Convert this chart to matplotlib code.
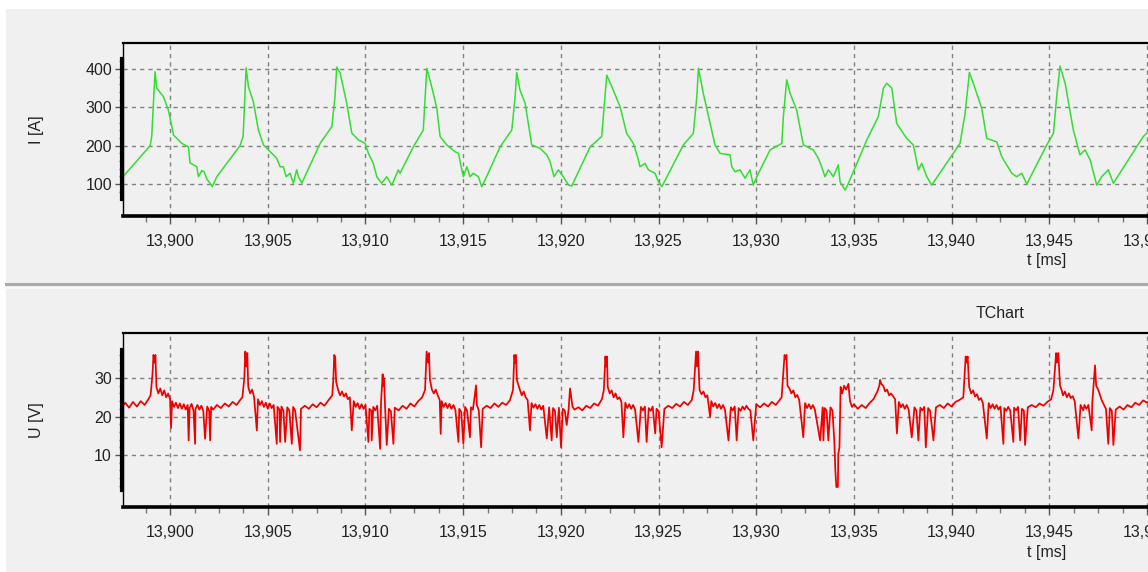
import numpy as np
import matplotlib.pyplot as plt
from matplotlib.ticker import FixedLocator, MultipleLocator, FuncFormatter
from matplotlib.patches import Rectangle
from matplotlib.lines import Line2D
from matplotlib.transforms import ScaledTranslation

plt.rcParams['font.family'] = ['Liberation Sans', 'DejaVu Sans']

# Strom I [A] (t in ms)
i_t = [13.89759, 13.89898, 13.89906, 13.89923, 13.89932, 13.89966, 13.89991, 13.90009, 13.90017, 13.90060,
       13.90094, 13.90102, 13.90137, 13.90145, 13.90162, 13.90174, 13.90189, 13.90205, 13.90216, 13.90239,
       13.90358, 13.90374, 13.90389, 13.90401, 13.90426, 13.90452, 13.90478, 13.90503, 13.90521, 13.90546,
       13.90563, 13.90580, 13.90594, 13.90614, 13.90631, 13.90648, 13.90657, 13.90674,
       13.90768, 13.90828, 13.90844, 13.90853, 13.90870, 13.90904, 13.90930, 13.90964, 13.90998, 13.91015,
       13.91040, 13.91058, 13.91083, 13.91109, 13.91135, 13.91168, 13.91177,
       13.91245, 13.91296, 13.91314, 13.91339, 13.91365, 13.91382, 13.91416, 13.91459, 13.91476, 13.91493,
       13.91501, 13.91519, 13.91535, 13.91552, 13.91578, 13.91595, 13.91612,
       13.91689, 13.91749, 13.91766, 13.91774, 13.91791, 13.91817, 13.91851, 13.91894, 13.91928, 13.91945,
       13.91965, 13.91987, 13.92013, 13.92039, 13.92056,
       13.92150, 13.92209, 13.92226, 13.92235, 13.92261, 13.92303, 13.92337, 13.92371, 13.92397, 13.92405,
       13.92431, 13.92448, 13.92482, 13.92499, 13.92517,
       13.92627, 13.92678, 13.92696, 13.92704, 13.92729, 13.92764, 13.92789, 13.92815, 13.92866, 13.92875,
       13.92892, 13.92917, 13.92943, 13.92968, 13.92985, 13.93003,
       13.93071, 13.93131, 13.93139, 13.93156, 13.93173, 13.93207, 13.93241, 13.93292, 13.93318, 13.93335,
       13.93352, 13.93369, 13.93395, 13.93420, 13.93429, 13.93455, 13.93472,
       13.93566, 13.93625, 13.93651, 13.93668, 13.93694, 13.93719, 13.93770, 13.93804, 13.93830, 13.93847,
       13.93873, 13.93898,
       13.94043, 13.94069, 13.94091, 13.94111, 13.94154, 13.94180, 13.94231, 13.94257, 13.94282, 13.94308,
       13.94333, 13.94359, 13.94385,
       13.94487, 13.94521, 13.94538, 13.94555, 13.94581, 13.94623, 13.94657, 13.94683, 13.94709, 13.94743,
       13.94768, 13.94802, 13.94828, 13.94981, 13.95016]
i_v = [119, 200, 224, 393, 350, 328, 293, 250, 228, 206,
       197, 155, 145, 119, 135, 132, 112, 102, 93, 119,
       200, 225, 403, 354, 315, 241, 202, 189, 180, 167,
       145, 145, 119, 128, 102, 137, 119, 102,
       206, 250, 328, 405, 390, 311, 233, 215, 206, 180,
       154, 119, 102, 119, 97, 137, 128,
       197, 241, 402, 354, 298, 224, 202, 184, 180, 137,
       119, 145, 119, 128, 119, 93, 110,
       197, 241, 328, 391, 345, 311, 202, 193, 176, 158,
       119, 137, 119, 97, 95,
       197, 224, 328, 384, 354, 302, 232, 206, 163, 145,
       154, 137, 128, 106, 93,
       202, 232, 328, 402, 337, 258, 202, 180, 176, 145,
       132, 137, 115, 137, 97, 119,
       189, 206, 276, 372, 337, 293, 202, 189, 167, 145,
       119, 137, 119, 150, 106, 84, 102,
       215, 276, 350, 363, 350, 258, 219, 202, 137, 154,
       119, 97,
       206, 284, 391, 363, 298, 219, 210, 171, 150, 128,
       119, 128, 100,
       202, 232, 328, 408, 363, 241, 176, 189, 163, 97,
       119, 137, 102, 224, 241]

# Spannung U [V]
u_t = [13.8975, 13.8977, 13.8979, 13.8981, 13.8983, 13.8985, 13.8987, 13.8989, 13.8990, 13.8991, 13.89915, 13.8992, 13.89925, 13.8993, 13.8994, 13.8995, 13.8996, 13.8997, 13.8998, 13.8999, 13.9000, 13.90005, 13.9001,
       13.9002, 13.9003, 13.9004, 13.9005, 13.9006, 13.9007, 13.9008, 13.9009, 13.90095, 13.9010, 13.9011, 13.9012, 13.90128, 13.9013, 13.9014, 13.9015, 13.9016, 13.9017, 13.90179, 13.9019, 13.9020, 13.90205, 13.9021, 13.9022,
       13.9024, 13.9026, 13.9028, 13.9030, 13.9032, 13.9034, 13.9036, 13.9037, 13.9038, 13.90385, 13.9039, 13.90395, 13.9040, 13.9041, 13.9042, 13.9043, 13.90444, 13.9045,
       13.9046, 13.9047, 13.9048, 13.9049, 13.9050, 13.9051, 13.9052, 13.9053, 13.90546, 13.9055, 13.9056, 13.90563, 13.9057, 13.9058, 13.90589, 13.9060, 13.9061, 13.90623, 13.9063, 13.9064, 13.90665, 13.9067,
       13.9069, 13.9071, 13.9073, 13.9075, 13.9077, 13.9079, 13.9081, 13.9083, 13.90836, 13.9084, 13.90845, 13.9085, 13.9086, 13.9087, 13.9088, 13.9089, 13.9090, 13.9091, 13.9092, 13.9093, 13.9094,
       13.9095, 13.9096, 13.9097, 13.9098, 13.9099, 13.9100, 13.91015, 13.9102, 13.9103, 13.91032, 13.9104, 13.9105, 13.9106, 13.91075, 13.9108, 13.91088, 13.9109, 13.91095, 13.9110, 13.91109, 13.9112, 13.9113, 13.91143, 13.9115,
       13.9117, 13.9119, 13.9121, 13.9123, 13.9125, 13.9127, 13.9129, 13.91305, 13.9131, 13.91313, 13.9132, 13.91325, 13.9133, 13.9134, 13.9135, 13.9136, 13.9137, 13.9138, 13.91385, 13.9139,
       13.9140, 13.9141, 13.9142, 13.9143, 13.9144, 13.9145, 13.9146, 13.91476, 13.9148, 13.9149, 13.91501, 13.9151, 13.9152, 13.91535, 13.9154, 13.9155, 13.91566, 13.9157, 13.9158, 13.91592, 13.9160,
       13.9162, 13.9164, 13.9166, 13.9168, 13.9170, 13.9172, 13.9174, 13.91755, 13.91762, 13.91766, 13.9177, 13.91775, 13.9179, 13.9180, 13.9181, 13.9182, 13.9183, 13.91842, 13.9185,
       13.9186, 13.9187, 13.9188, 13.9189, 13.9190, 13.9191, 13.91928, 13.9194, 13.91953, 13.9196, 13.9197, 13.91979, 13.9199, 13.92001, 13.9201, 13.9202, 13.92030, 13.9204, 13.92047, 13.9206, 13.9207,
       13.9209, 13.9211, 13.9213, 13.9215, 13.9217, 13.9219, 13.9221, 13.9222, 13.92228, 13.92232, 13.92236, 13.9224, 13.9225, 13.9226, 13.9227, 13.9228, 13.9229, 13.9230, 13.9231, 13.92320, 13.9233,
       13.9234, 13.9235, 13.9236, 13.9237, 13.9238, 13.92397, 13.9241, 13.9242, 13.9243, 13.92439, 13.9245, 13.9246, 13.9247, 13.92483, 13.9249, 13.9250, 13.92516, 13.9253,
       13.9255, 13.9257, 13.9259, 13.9261, 13.9263, 13.9265, 13.9267, 13.9268, 13.92692, 13.92697, 13.92702, 13.9271, 13.9272, 13.9273, 13.9274, 13.9275, 13.92764, 13.9277,
       13.9278, 13.9279, 13.9280, 13.9281, 13.9282, 13.9283, 13.9284, 13.92858, 13.9287, 13.9288, 13.9289, 13.92900, 13.9291, 13.9292, 13.9293, 13.9294, 13.9295, 13.9296, 13.9297, 13.92985,
       13.9300, 13.9302, 13.9304, 13.9306, 13.9308, 13.9310, 13.9312, 13.9313, 13.93145, 13.9315, 13.93155, 13.9316, 13.9317, 13.9318, 13.9319, 13.9320, 13.9321, 13.9322, 13.93241, 13.9325,
       13.9326, 13.9327, 13.9328, 13.9329, 13.9330, 13.93327, 13.9334, 13.93344, 13.9335, 13.9336, 13.93369, 13.9338, 13.9339, 13.93400, 13.93405, 13.9341, 13.93418, 13.9342, 13.93426, 13.93432, 13.9344, 13.9345, 13.9346, 13.93472, 13.9348,
       13.9349, 13.9350, 13.9352, 13.9354, 13.9356, 13.9358, 13.9360, 13.9362, 13.9363, 13.93634, 13.9364, 13.9365, 13.9366, 13.9367, 13.9368, 13.9369, 13.93711, 13.9372, 13.9373,
       13.9374, 13.9375, 13.9376, 13.9377, 13.9378, 13.93796, 13.9381, 13.9382, 13.93830, 13.9384, 13.9385, 13.9386, 13.93868, 13.9388, 13.9389, 13.93907, 13.9392,
       13.9394, 13.9396, 13.9398, 13.9400, 13.9402, 13.9404, 13.9406, 13.94072, 13.94077, 13.94082, 13.9409, 13.9410, 13.9411, 13.9412, 13.9413, 13.9414, 13.9415, 13.9416, 13.94180, 13.9419,
       13.9420, 13.9421, 13.9422, 13.9423, 13.9424, 13.9425, 13.94265, 13.9427, 13.9428, 13.9429, 13.9430, 13.94316, 13.9432, 13.9433, 13.9434, 13.94351, 13.9436, 13.9437, 13.94376, 13.9439,
       13.9441, 13.9443, 13.9445, 13.9447, 13.9449, 13.9451, 13.94521, 13.94535, 13.9454, 13.94546, 13.94555, 13.94563, 13.9457, 13.9458, 13.9459, 13.9460, 13.9461, 13.9462, 13.9463, 13.94649, 13.9466, 13.94674, 13.9468, 13.9469, 13.9470, 13.94717, 13.9472, 13.94734, 13.9474, 13.94751, 13.9476, 13.94768,
       13.9478, 13.9479, 13.94802, 13.9481, 13.9482, 13.94828, 13.9484, 13.9486, 13.9488, 13.9490, 13.9492, 13.9494, 13.9496, 13.9498, 13.9500, 13.9502]
u_v = [22.0, 23.6, 22.3, 23.8, 22.6, 24.0, 23.0, 24.6, 25.5, 31.0, 36.0, 34.0, 36.0, 27.7, 26.0, 27.3, 25.5, 26.8, 25.0, 26.0, 24.5, 17.0, 24.0,
       22.5, 23.6, 22.2, 23.4, 22.0, 23.2, 21.8, 23.0, 13.8, 22.2, 23.3, 21.5, 12.9, 22.0, 23.0, 21.8, 22.8, 21.5, 14.2, 22.6, 21.4, 13.8, 22.5, 21.8,
       23.0, 22.2, 23.4, 22.6, 23.8, 23.0, 24.4, 25.0, 30.0, 36.9, 33.0, 36.5, 27.7, 26.0, 27.0, 25.0, 16.4, 24.5,
       23.0, 24.0, 22.5, 23.6, 22.0, 23.4, 22.2, 23.0, 12.9, 22.5, 21.8, 13.4, 22.6, 21.5, 13.4, 22.4, 21.6, 12.9, 22.5, 21.5, 11.2, 22.0,
       22.8, 22.0, 23.2, 22.4, 23.6, 22.8, 24.2, 25.5, 30.0, 36.0, 35.5, 29.0, 26.9, 25.5, 26.5, 25.2, 26.0, 24.5, 25.0, 16.4, 24.0,
       22.5, 23.5, 22.0, 23.2, 22.0, 23.0, 13.4, 22.0, 21.5, 13.8, 22.5, 21.6, 22.8, 11.6, 24.0, 31.0, 28.0, 30.0, 23.0, 12.6, 22.0, 21.4, 12.9, 22.3,
       21.6, 22.8, 22.0, 23.4, 22.6, 24.0, 25.0, 26.9, 33.0, 36.9, 34.0, 36.5, 29.5, 27.0, 26.0, 27.0, 25.5, 24.3, 15.5, 24.0,
       22.5, 23.5, 22.2, 23.3, 22.0, 23.0, 21.8, 13.4, 22.0, 21.2, 12.9, 22.5, 21.5, 14.6, 22.4, 21.8, 28.1, 23.0, 21.6, 12.0, 22.0,
       22.8, 22.2, 23.4, 22.5, 23.6, 23.0, 24.3, 26.9, 36.0, 34.0, 36.0, 29.5, 27.0, 25.5, 26.5, 25.0, 24.3, 16.4, 23.5,
       22.3, 23.2, 22.0, 23.0, 21.8, 22.8, 14.3, 22.4, 13.8, 22.2, 21.5, 14.6, 22.3, 12.0, 22.0, 21.6, 17.8, 22.0, 27.3, 22.5, 21.8,
       22.4, 21.6, 22.8, 22.2, 23.4, 22.8, 24.5, 26.9, 35.6, 33.0, 35.6, 27.7, 26.0, 26.8, 25.0, 26.0, 24.5, 25.0, 23.8, 14.6, 23.6,
       22.2, 23.2, 22.0, 23.0, 21.8, 13.4, 22.5, 21.6, 22.6, 13.4, 22.2, 21.5, 22.6, 15.6, 22.0, 21.4, 12.0, 22.0,
       22.8, 22.2, 23.3, 22.6, 23.8, 23.0, 24.3, 26.9, 36.9, 33.0, 36.9, 26.9, 25.8, 26.5, 25.0, 25.5, 19.9, 24.0,
       22.6, 23.5, 22.2, 23.2, 22.0, 23.0, 21.8, 13.8, 22.4, 21.6, 22.6, 13.8, 22.2, 21.5, 22.6, 21.8, 22.8, 22.0, 21.6, 13.8,
       23.2, 22.4, 23.4, 22.6, 23.8, 23.0, 24.3, 25.0, 36.0, 35.0, 36.0, 28.0, 27.3, 26.0, 26.8, 25.0, 25.6, 24.3, 14.6, 23.5,
       22.2, 23.2, 22.0, 23.0, 21.8, 13.8, 22.4, 13.8, 22.2, 21.6, 13.8, 22.4, 21.6, 13.4, 6.0, 1.7, 1.7, 10.3, 12.0, 27.7, 26.0, 28.0, 27.0, 28.5, 24.0,
       22.5, 23.2, 22.0, 23.0, 22.2, 23.5, 24.5, 26.5, 28.0, 29.5, 28.5, 28.0, 26.5, 27.0, 25.5, 26.0, 24.5, 15.6, 23.8,
       22.4, 23.2, 22.0, 23.0, 21.8, 14.6, 22.4, 21.5, 13.8, 22.3, 21.6, 22.5, 12.0, 22.2, 21.5, 13.8, 22.4,
       23.0, 22.2, 23.4, 22.6, 23.8, 24.3, 25.0, 35.6, 34.0, 35.6, 27.7, 26.0, 26.8, 25.2, 25.8, 24.3, 24.8, 23.5, 14.3, 23.5,
       22.2, 23.2, 22.0, 23.0, 21.8, 22.6, 12.9, 22.2, 21.5, 22.5, 21.6, 13.4, 22.3, 21.6, 22.5, 13.8, 22.0, 21.5, 12.6, 22.4,
       23.0, 22.4, 23.4, 22.8, 23.8, 24.5, 26.9, 36.5, 34.0, 36.5, 28.0, 26.9, 25.5, 26.5, 25.0, 26.0, 24.8, 25.3, 24.0, 14.3, 23.0, 21.6, 23.0, 22.0, 23.0, 16.4, 23.5, 33.3, 28.0, 26.9, 25.5, 24.3,
       23.0, 22.0, 12.9, 22.2, 21.5, 12.6, 21.8, 22.6, 21.8, 23.0, 22.4, 23.6, 23.0, 24.2, 23.6, 24.3]
assert len(u_t) == len(u_v) and len(i_t) == len(i_v)

W, H = 1148, 572
BG = '#f0f0f0'
fig = plt.figure(figsize=(W / 100, H / 100), dpi=100, facecolor='white')
fig.patches.append(Rectangle((6 / W, 0), 1, 1 - 9 / H, transform=fig.transFigure,
                             facecolor=BG, edgecolor='none', zorder=-10))
# Trennlinie zwischen den beiden Charts
fig.add_artist(Line2D([6 / W, 1], [1 - 284 / H] * 2, color='#aaaaaa', lw=2.2, transform=fig.transFigure))
fig.add_artist(Line2D([6 / W, 1], [1 - 288 / H] * 2, color='#fafafa', lw=1.5, transform=fig.transFigure))

x_lo, x_hi = 13.89759, 13.95169


def komma(v, pos):
    return f"{v:.3f}".replace('.', ',')


def style(ax, ylim, yticks, yminor, axis_span):
    ax.set_facecolor(BG)
    ax.set_xlim(x_lo, x_hi)
    ax.set_ylim(*ylim)
    ax.xaxis.set_major_locator(MultipleLocator(0.005))
    ax.xaxis.set_minor_locator(MultipleLocator(0.00125))
    ax.xaxis.set_major_formatter(FuncFormatter(komma))
    ax.yaxis.set_major_locator(FixedLocator(yticks))
    ax.yaxis.set_minor_locator(FixedLocator(yminor))
    ax.grid(True, which='major', color='#808080', linestyle=(0, (3, 3)), linewidth=1)
    ax.set_axisbelow(True)
    ax.spines['right'].set_visible(False)
    ax.spines['top'].set_linewidth(1.6)
    ax.spines['bottom'].set_linewidth(2.6)
    ax.spines['left'].set_linewidth(1.0)
    for s in ax.spines.values():
        s.set_color('black')
    ax.tick_params(axis='x', which='major', length=6, width=1, color='#555555', pad=7,
                   labelsize=11.5, labelcolor='#222222')
    ax.tick_params(axis='x', which='minor', length=4, width=1, color='#777777')
    ax.tick_params(axis='y', which='major', length=6, width=1, color='#555555', pad=2,
                   labelsize=11.5, labelcolor='#222222')
    ax.tick_params(axis='y', which='minor', length=3, width=1, color='#777777')
    # dicke Achslinie links (nur ueber den Wertebereich)
    f0 = (axis_span[0] - ylim[0]) / (ylim[1] - ylim[0])
    f1 = (axis_span[1] - ylim[0]) / (ylim[1] - ylim[0])
    tr = ax.transAxes + ScaledTranslation(-1.5 / 100, 0, fig.dpi_scale_trans)
    ax.add_line(Line2D([0, 0], [f0, f1], color='black', lw=3, transform=tr, clip_on=False))


ax1 = fig.add_axes([123 / W, 1 - 216 / H, (1180 - 123) / W, 173 / H])
style(ax1, (16.5, 468), [100, 200, 300, 400], np.arange(80, 421, 20), (61, 425))
ax1.plot(i_t, i_v, color='#33dd33', lw=1.1)

ax2 = fig.add_axes([123 / W, 1 - 507 / H, (1180 - 123) / W, 174 / H])
style(ax2, (-3.5, 41.7), [10, 20, 30], np.arange(2, 37, 2), (0.9, 37.3))
ax2.plot(u_t, u_v, color='#ee0000', lw=1.25)

fig.text(36 / W, 1 - 130 / H, 'I [A]', rotation=90, ha='center', va='center', fontsize=11.5, color='#222222')
fig.text(36 / W, 1 - 420 / H, 'U [V]', rotation=90, ha='center', va='center', fontsize=11.5, color='#222222')
fig.text(1047 / W, 1 - 261 / H, 't [ms]', ha='center', va='center', fontsize=11.5, color='#222222')
fig.text(1047 / W, 1 - 553 / H, 't [ms]', ha='center', va='center', fontsize=11.5, color='#222222')
fig.text(1000 / W, 1 - 314 / H, 'TChart', ha='center', va='center', fontsize=11.5, color='#222222')

fig.savefig('out.png', dpi=100)
